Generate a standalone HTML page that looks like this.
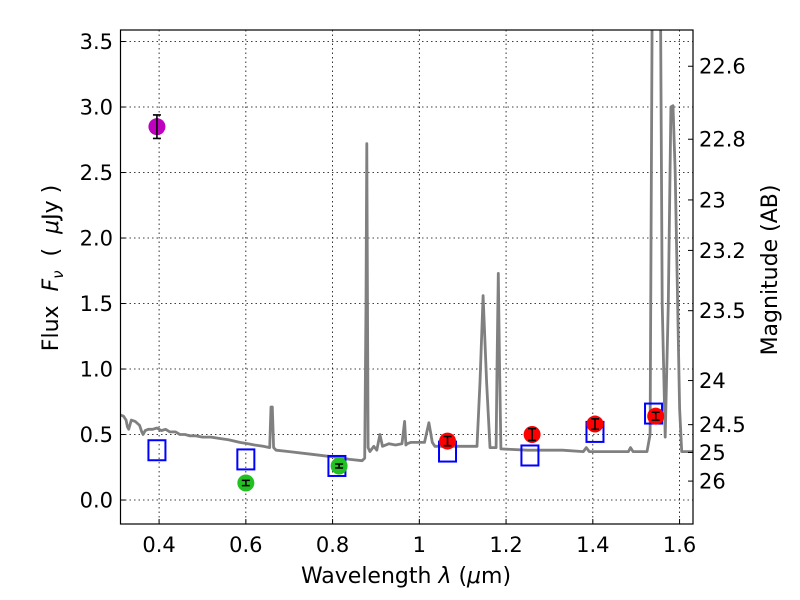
<!DOCTYPE html>
<html><head><meta charset="utf-8">
<style>
html,body{margin:0;padding:0;background:#fff;}
svg{display:block;font-family:"DejaVu Sans","Liberation Sans",sans-serif;}
</style></head>
<body>
<svg id="chart" width="800" height="600" viewBox="0 0 800 600">
<rect x="0" y="0" width="800" height="600" fill="#fff"/>
<g id="grid"></g>
<g id="spec"></g>
<g id="marks"></g>
<rect x="120.5" y="30" width="572.5" height="494" fill="none" stroke="#000" stroke-width="1.2"/>
<g id="axes"></g>
<text x="406" y="583" font-size="22" text-anchor="middle">Wavelength  <tspan font-style="italic">λ</tspan> (<tspan font-style="italic">μ</tspan>m)</text>
<text transform="translate(58,268) rotate(-90)" font-size="22" text-anchor="middle" xml:space="preserve">Flux  <tspan font-style="italic">F</tspan><tspan font-style="italic" font-size="15" dy="5">ν</tspan><tspan dy="-5">  (  </tspan><tspan font-style="italic">μ</tspan>Jy )</text>
<text transform="translate(777,270) rotate(-90)" font-size="22" text-anchor="middle">Magnitude (AB)</text>
</svg>
<script>
const xTicks=[0.4,0.6,0.8,1.0,1.2,1.4,1.6];
const xTickLabels=["0.4","0.6","0.8","1","1.2","1.4","1.6"];
const yTicks=[0,0.5,1,1.5,2,2.5,3,3.5];
const yTickLabels=["0.0","0.5","1.0","1.5","2.0","2.5","3.0","3.5"];
const magTicks=[22.6,22.8,23,23.2,23.5,24,24.5,25,26];
const magTickLabels=["22.6","22.8","23","23.2","23.5","24","24.5","25","26"];
const specWave=[0.31,0.318,0.324,0.327,0.33,0.336,0.345,0.355,0.36,0.363,0.368,0.375,0.385,0.395,0.405,0.415,0.425,0.438,0.448,0.46,0.47,0.483,0.5,0.52,0.54,0.56,0.586,0.605,0.62,0.64,0.655,0.658,0.661,0.664,0.67,0.7,0.75,0.8,0.84,0.868,0.874,0.877,0.879,0.882,0.886,0.895,0.902,0.909,0.915,0.93,0.945,0.96,0.966,0.969,0.972,0.98,1.0,1.012,1.022,1.03,1.036,1.08,1.133,1.14,1.147,1.155,1.163,1.177,1.179,1.182,1.185,1.188,1.25,1.33,1.378,1.385,1.392,1.45,1.482,1.487,1.493,1.525,1.532,1.537,1.548,1.556,1.56,1.567,1.574,1.58,1.585,1.59,1.6,1.605,1.631];
const specFlux=[0.65,0.64,0.61,0.56,0.54,0.61,0.6,0.57,0.52,0.5,0.53,0.54,0.54,0.55,0.53,0.54,0.52,0.52,0.5,0.5,0.49,0.49,0.48,0.48,0.47,0.46,0.44,0.43,0.42,0.41,0.4,0.71,0.71,0.4,0.38,0.37,0.35,0.33,0.31,0.3,0.32,1.5,2.72,0.4,0.37,0.41,0.38,0.5,0.41,0.43,0.42,0.43,0.6,0.42,0.43,0.44,0.44,0.44,0.59,0.44,0.41,0.41,0.41,0.9,1.56,0.9,0.4,0.4,1.0,1.73,1.0,0.39,0.38,0.38,0.37,0.4,0.37,0.37,0.37,0.4,0.37,0.37,0.5,3.8,3.8,3.8,1.5,0.48,1.5,3.0,3.01,2.5,0.7,0.37,0.37];
const magWave=[0.395];
const magFlux=[2.85];
const magErr=[0.09];
const greenWave=[0.6,0.815];
const greenFlux=[0.13,0.26];
const greenErr=[0.02,0.015];
const redWave=[1.065,1.26,1.405,1.545];
const redFlux=[0.45,0.50,0.58,0.64];
const redErr=[0.035,0.045,0.04,0.03];
const boxWave=[0.395,0.6,0.81,1.065,1.255,1.405,1.54];
const boxFlux=[0.38,0.31,0.26,0.37,0.34,0.52,0.66];

const NS="http://www.w3.org/2000/svg";
const X0=120.5,X1=693,Y0=30,Y1=524;
const xmin=0.311,xmax=1.631,ymin=-0.183,ymax=3.588;
function xs(v){return X0+(v-xmin)/(xmax-xmin)*(X1-X0);}
function ys(v){return Y1-(v-ymin)/(ymax-ymin)*(Y1-Y0);}
function el(tag,attrs,parent){const e=document.createElementNS(NS,tag);for(const k in attrs)e.setAttribute(k,attrs[k]);parent.appendChild(e);return e;}
const grid=document.getElementById('grid'),axes=document.getElementById('axes');
xTicks.forEach((t,i)=>{
  const x=xs(t);
  const g=el('line',{x1:x,x2:x,y1:Y0,y2:Y1,stroke:'#000','stroke-width':0.8,'stroke-dasharray':'1.5,3'},grid);
  
  
  const tk=el('line',{x1:x,x2:x,y1:Y1,y2:Y1-5,stroke:'#000','stroke-width':1},axes);
  
  
  const tx=el('text',{x:x,y:552,'font-size':21,'text-anchor':'middle'},axes);
  tx.textContent=xTickLabels[i];
  
  
});
yTicks.forEach((t,i)=>{
  const y=ys(t);
  const g=el('line',{x1:X0,x2:X1,y1:y,y2:y,stroke:'#000','stroke-width':0.8,'stroke-dasharray':'1.5,3'},grid);
  
  
  const tk=el('line',{x1:X0,x2:X0+5,y1:y,y2:y,stroke:'#000','stroke-width':1},axes);
  
  
  const tx=el('text',{x:113,y:y+7.5,'font-size':21,'text-anchor':'end'},axes);
  tx.textContent=yTickLabels[i];
  
  
});
magTicks.forEach((m,i)=>{
  const f=Math.pow(10,(23.9-m)/2.5);
  const y=ys(f);
  const tk=el('line',{x1:X1-5,x2:X1,y1:y,y2:y,stroke:'#000','stroke-width':1},axes);
  
  
  const tx=el('text',{x:699,y:y+7.5,'font-size':21,'text-anchor':'start'},axes);
  tx.textContent=magTickLabels[i];
  
  
});
const spec=document.getElementById('spec');
const defs=el('defs',{},spec);
const cp=el('clipPath',{id:'clip'},defs);
el('rect',{x:X0,y:Y0,width:X1-X0,height:Y1-Y0},cp);
let d='';
specWave.forEach((w,i)=>{d+=(i?'L':'M')+xs(w).toFixed(1)+','+ys(specFlux[i]).toFixed(1);});
const sp=el('path',{d:d,fill:'none',stroke:'#808080','stroke-width':2.8,'stroke-linejoin':'round','clip-path':'url(#clip)'},spec);


const marks=document.getElementById('marks');
function pts(wv,fl,er,color,name){
  wv.forEach((w,i)=>{
    const x=xs(w),y=ys(fl[i]);
    const c=el('circle',{cx:x,cy:y,r:8.5,fill:color},marks);
    
    
    const y1=ys(fl[i]+er[i]),y2=ys(fl[i]-er[i]);
    const e=el('path',{d:`M${x},${y1}L${x},${y2}M${x-4},${y1}L${x+4},${y1}M${x-4},${y2}L${x+4},${y2}`,stroke:'#000','stroke-width':1.6,fill:'none'},marks);
    
    
  });
}
boxWave.forEach((w,i)=>{
  const r=el('rect',{x:xs(w)-8.5,y:ys(boxFlux[i])-10,width:17,height:20,fill:'none',stroke:'#0000ff','stroke-width':2},marks);
  
  
});
pts(magWave,magFlux,magErr,'#bf00bf','uv-point');
pts(greenWave,greenFlux,greenErr,'#22c022','optical-point');
pts(redWave,redFlux,redErr,'#ff0000','ir-point');
</script>
</body></html>
